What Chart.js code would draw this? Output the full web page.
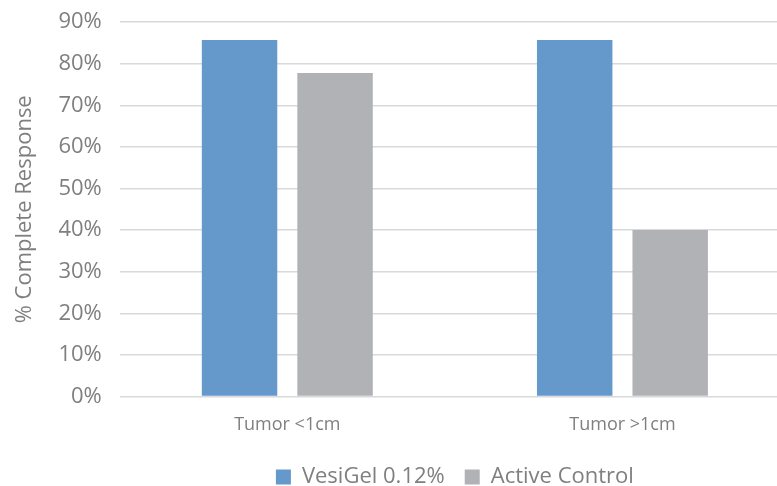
<!DOCTYPE html>
<html>
<head>
<meta charset="utf-8">
<script src="https://cdn.jsdelivr.net/npm/chart.js@4"></script>
<style>
  html, body { margin: 0; padding: 0; background: #fff; overflow: hidden; }
  #wrap { width: 790px; height: 507px; margin-top: -9px; }
</style>
</head>
<body>
<div id="wrap"><canvas id="responseChart"></canvas></div>
<script>
// Data
const categories = ["Tumor <1cm", "Tumor >1cm"];
const vesigelValues = [85.7, 85.7];
const controlValues = [77.8, 40];
const seriesNames = ["VesiGel 0.12%", "Active Control"];

const textColor = "#7f7f7f";
const fontFamily = "'Open Sans', 'Liberation Sans', sans-serif";

const ctx = document.getElementById("responseChart").getContext("2d");

new Chart(ctx, {
  type: "bar",
  data: {
    labels: categories,
    datasets: [
      {
        label: seriesNames[0],
        data: vesigelValues,
        backgroundColor: "#6599cb", // blue
        categoryPercentage: 0.57,
        barPercentage: 0.79,
      },
      {
        label: seriesNames[1],
        data: controlValues,
        backgroundColor: "#b1b2b5", // gray
        categoryPercentage: 0.57,
        barPercentage: 0.79,
      },
    ],
  },
  options: {
    responsive: true,
    maintainAspectRatio: false,
    animation: false,
    layout: {
      padding: { top: 0, left: 8, right: 0, bottom: 0 },
    },
    scales: {
      x: {
        grid: { display: false },
        border: { display: false },
        ticks: {
          color: textColor,
          padding: 17,
          font: { family: fontFamily, size: 18, lineHeight: 0.42 },
        },
      },
      y: {
        min: 0,
        max: 90,
        ticks: {
          stepSize: 10,
          color: textColor,
          padding: 18,
          font: { family: fontFamily, size: 22 },
          callback: (v) => v + "%",
        },
        grid: { color: "#d9d9d9", lineWidth: 1.5, drawTicks: false },
        border: { display: false },
        title: {
          display: true,
          text: "% Complete Response",
          color: textColor,
          font: { family: fontFamily, size: 22 },
          padding: { bottom: 2 },
        },
      },
    },
    plugins: {
      legend: {
        position: "bottom",
        fullSize: false,
        labels: {
          color: textColor,
          boxWidth: 15,
          boxHeight: 15,
          padding: 20,
          font: { family: fontFamily, size: 22 },
        },
      },
      tooltip: { enabled: false },
    },
  },
});
</script>
</body>
</html>
